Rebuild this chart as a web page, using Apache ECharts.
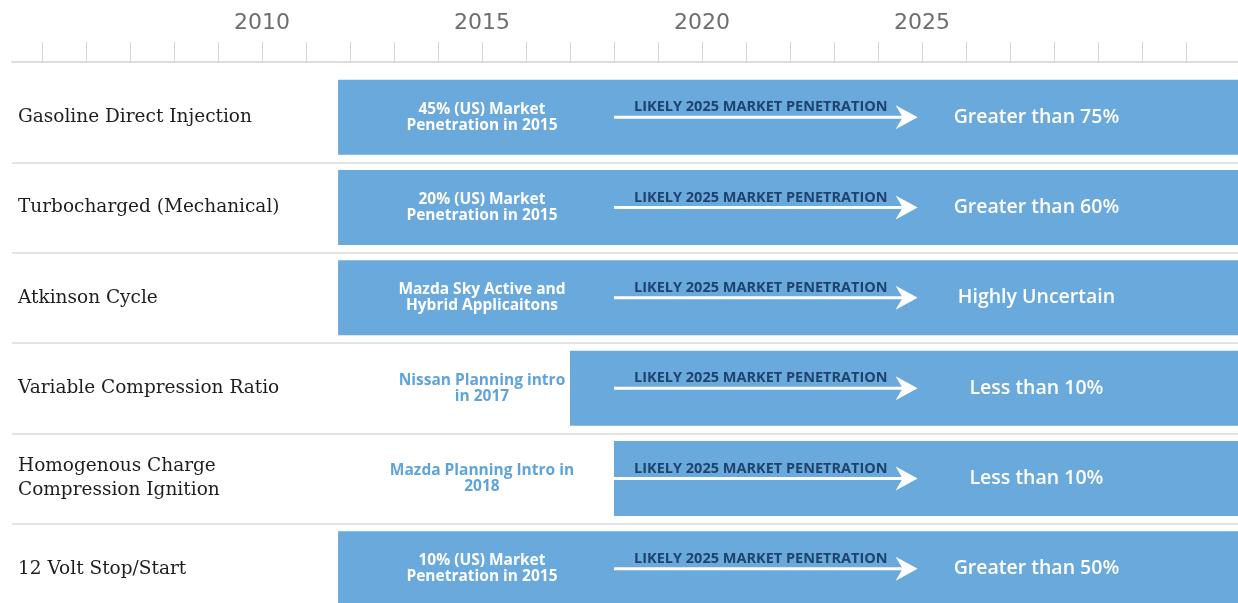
<!DOCTYPE html>
<html>
<head>
<meta charset="utf-8">
<title>Engine technology penetration timeline</title>
<script src="https://cdn.jsdelivr.net/npm/echarts@6/dist/echarts.min.js"></script>
<style>
  html, body { margin: 0; padding: 0; background: #fff; }
  #chart { width: 1238px; height: 603px; }
</style>
</head>
<body>
<div id="chart"></div>
<script>
const technologies = [
  'Gasoline Direct Injection',
  'Turbocharged (Mechanical)',
  'Atkinson Cycle',
  'Variable Compression Ratio',
  'Homogenous Charge\nCompression Ignition',
  '12 Volt Stop/Start'
];
// year each bar starts on the timeline
const introYear = [2011.73, 2011.73, 2011.73, 2017, 2018, 2011.73];
const introNotes = [
  '45% (US) Market\nPenetration in 2015',
  '20% (US) Market\nPenetration in 2015',
  'Mazda Sky Active and\nHybrid Applicaitons',
  'Nissan Planning intro\nin 2017',
  'Mazda Planning Intro in\n2018',
  '10% (US) Market\nPenetration in 2015'
];
const outlook = [
  'Greater than 75%',
  'Greater than 60%',
  'Highly Uncertain',
  'Less than 10%',
  'Less than 10%',
  'Greater than 50%'
];
const arrowLabel = 'LIKELY 2025 MARKET PENETRATION';
const tickYears = [2005, 2006, 2007, 2008, 2009, 2010, 2011, 2012, 2013, 2014, 2015, 2016, 2017, 2018,
  2019, 2020, 2021, 2022, 2023, 2024, 2025, 2026, 2027, 2028, 2029, 2030, 2031];
const labelYears = [2010, 2015, 2020, 2025];
const noteYear = 2015;
const arrowFrom = 2018;
const arrowTo = 2024.9;
const outlookYear = 2027.6;
const axisMin = 2004.32;
const axisMax = 2032.18;

const barColor = '#6aa9dc';
const sans = '"Open Sans", sans-serif';

const chart = echarts.init(document.getElementById('chart'));

function renderRow(params, api) {
  const row = api.value(0);
  const start = api.value(1);
  const band = api.size([0, 1])[1];
  const h = band * 0.83;
  const p0 = api.coord([start, row]);
  const yc = p0[1];
  const xEnd = api.coord([axisMax, row])[0];
  const xFrom = api.coord([arrowFrom, row])[0];
  const xTip = api.coord([arrowTo, row])[0];
  const xNote = api.coord([noteYear, row])[0];
  const xOut = api.coord([outlookYear, row])[0];
  const inside = start <= noteYear;

  return {
    type: 'group',
    children: [
      {
        type: 'rect',
        shape: { x: p0[0], y: yc - h / 2, width: xEnd - p0[0], height: h },
        style: { fill: barColor }
      },
      {
        type: 'line',
        shape: { x1: xFrom, y1: yc, x2: xTip - 14, y2: yc },
        style: { stroke: '#fff', lineWidth: 3 }
      },
      {
        type: 'polygon',
        shape: { points: [[xTip, yc], [xTip - 22, yc - 12], [xTip - 15, yc], [xTip - 22, yc + 12]] },
        style: { fill: '#fff' }
      },
      {
        type: 'text',
        x: (xFrom + xTip) / 2 - 5,
        y: yc - 10,
        style: {
          text: arrowLabel, fill: '#1e436c', fontFamily: sans, fontWeight: 'bold', fontSize: 14.5,
          align: 'center', verticalAlign: 'middle'
        }
      },
      {
        type: 'text',
        x: xNote,
        y: yc,
        style: {
          text: introNotes[params.dataIndex], fill: inside ? '#fff' : '#5ea4d9',
          fontFamily: sans, fontWeight: 'bold', fontSize: 15.5, lineHeight: 16,
          align: 'center', verticalAlign: 'middle'
        }
      },
      {
        type: 'text',
        x: xOut,
        y: yc,
        style: {
          text: outlook[params.dataIndex], fill: '#fff',
          fontFamily: sans, fontWeight: 600, fontSize: 19.5,
          align: 'center', verticalAlign: 'middle'
        }
      }
    ]
  };
}

chart.setOption({
  animation: false,
  grid: { left: 12, right: 0, top: 72, bottom: -11, outerBoundsMode: 'none' },
  xAxis: {
    type: 'value',
    position: 'top',
    offset: 10,
    min: axisMin,
    max: axisMax,
    axisLine: { show: true, lineStyle: { color: '#dedede', width: 2 } },
    axisTick: { show: true, customValues: tickYears, length: 20, lineStyle: { color: '#d6d6d6', width: 1 } },
    axisLabel: {
      customValues: labelYears, margin: 28, color: '#6e6e6e',
      fontFamily: '"DejaVu Sans"', fontSize: 22,
      formatter: (v) => String(Math.round(v))
    },
    splitLine: { show: false }
  },
  yAxis: {
    type: 'category',
    inverse: true,
    data: technologies,
    axisLine: { show: false },
    axisTick: { show: false },
    axisLabel: {
      inside: true, margin: 6, color: '#1e1e1e', fontFamily: '"DejaVu Serif"', fontSize: 18.5,
      lineHeight: 24, align: 'left'
    },
    splitLine: {
      show: true,
      interval: (index) => index > 0,
      lineStyle: { color: '#dadada', width: 1.5 }
    }
  },
  series: [{
    type: 'custom',
    renderItem: renderRow,
    encode: { x: 1, y: 0 },
    data: technologies.map((t, i) => [i, introYear[i]]),
    z: 3
  }]
});
</script>
</body>
</html>
